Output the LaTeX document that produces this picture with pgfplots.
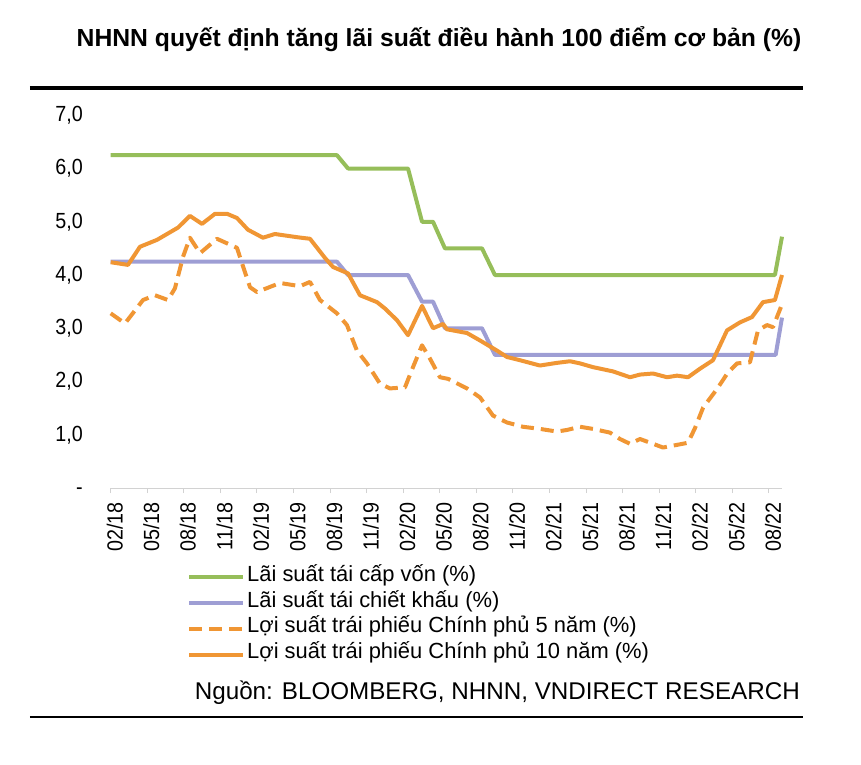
\documentclass[border=0pt]{standalone}
\usepackage{fontspec}
\setmainfont{Liberation Sans}
\newfontfamily\narrowsans[FakeStretch=0.9]{Liberation Sans}
\usepackage{pgfplots}
\pgfplotsset{compat=1.18}

\definecolor{refi}{RGB}{150,190,90}
\definecolor{redis}{RGB}{158,158,212}
\definecolor{bond}{RGB}{240,150,52}
\definecolor{axisgray}{RGB}{210,210,210}

\begin{document}
\begin{tikzpicture}[x=1bp,y=1bp]
\begin{axis}[
  at={(0,0)}, anchor=south west,
  scale only axis, width=671.3bp, height=372.75bp,
  xmin=0, xmax=55.07, ymin=0, ymax=7,
  clip=false,
  axis lines*=left,
  y axis line style={draw=none},
  x axis line style={draw=axisgray, line width=1bp},
  xtick={0,3,...,54},
  xticklabels={02/18,05/18,08/18,11/18,02/19,05/19,08/19,11/19,02/20,05/20,08/20,11/20,02/21,05/21,08/21,11/21,02/22,05/22,08/22},
  ytick={0,1,...,7},
  yticklabels={{\vphantom{1,0}-\hspace{7bp}},{1,0},{2,0},{3,0},{4,0},{5,0},{6,0},{7,0}},
  tick align=outside,
  major tick length=5bp,
  xtick style={draw=axisgray, line width=1bp},
  ytick style={draw=none},
  yticklabel style={font=\narrowsans\fontsize{22}{22}\selectfont, anchor=east, inner sep=0pt, xshift=-22.7bp},
  xticklabel style={font=\narrowsans\fontsize{22}{22}\selectfont, rotate=90, anchor=east, inner sep=0pt,
    text height=23.8bp, text depth=0pt},
  xticklabel shift=9bp,
  legend style={at={(0,0)}, anchor=north west, xshift=76.3bp, yshift=-77bp,
    draw=none, fill=none, inner sep=0pt, row sep=1.9bp, column sep=2bp,
    font=\fontsize{22}{22}\selectfont,
    nodes={inner sep=0pt, text height=16bp, text depth=8pt}},
  legend cell align=left,
  legend image code/.code={\draw[#1] (0bp,0bp) -- (54bp,0bp);},
  every axis plot/.append style={line width=4bp, line join=round},
]
% Lai suat tai cap von
\addplot[refi] coordinates {
  (0,6.25) (18.56,6.25) (19.47,6.0) (24.39,6.0) (25.54,5.0) (26.44,5.0)
  (27.42,4.5) (30.46,4.5) (31.52,4.0) (54.49,4.0) (55.07,4.72)
};
% Lai suat tai chiet khau
\addplot[redis] coordinates {
  (0,4.25) (18.56,4.25) (19.47,4.0) (24.39,4.0) (25.54,3.5) (26.44,3.5)
  (27.42,3.0) (30.46,3.0) (31.52,2.5) (54.55,2.5) (55.07,3.2)
};
% 5-year bond yield
\addplot[bond, dash pattern=on 13bp off 7bp] coordinates {
  (0,3.28) (1.17,3.09) (2.65,3.53) (3.63,3.62) (4.70,3.53) (5.27,3.75)
  (5.93,4.34) (6.50,4.70) (7.33,4.41) (8.72,4.68) (10.36,4.51) (10.77,4.22)
  (11.43,3.77) (12.00,3.68) (13.89,3.85) (15.53,3.79) (16.35,3.87) (17.17,3.53)
  (18.56,3.28) (19.38,3.06) (20.20,2.58) (21.02,2.34) (22.09,1.96) (22.91,1.87)
  (24.14,1.89) (24.80,2.27) (25.54,2.68) (26.19,2.43) (27.01,2.08) (27.67,2.05)
  (29.23,1.87) (30.30,1.70) (31.36,1.36) (32.51,1.23) (33.82,1.15) (35.21,1.11)
  (36.61,1.06) (37.43,1.09) (38.50,1.15) (39.56,1.11) (40.96,1.04) (41.78,0.92)
  (42.60,0.83) (43.42,0.92) (44.49,0.83) (45.31,0.76) (46.46,0.81) (47.36,0.85)
  (47.94,1.13) (48.60,1.51) (49.74,1.86) (50.64,2.17) (51.38,2.34) (52.44,2.36)
  (53.10,2.96) (53.84,3.06) (54.33,3.02) (55.07,3.45)
};
% 10-year bond yield
\addplot[bond] coordinates {
  (0,4.24) (1.42,4.19) (2.40,4.53) (3.80,4.66) (5.52,4.89) (6.50,5.11)
  (7.49,4.96) (8.56,5.15) (9.54,5.15) (10.36,5.07) (11.26,4.85) (12.49,4.70)
  (13.47,4.77) (15.28,4.71) (16.35,4.68) (17.58,4.32) (18.24,4.15) (19.47,4.03)
  (20.45,3.62) (21.85,3.49) (22.50,3.37) (23.49,3.15) (24.39,2.87) (25.54,3.42)
  (26.44,3.00) (27.26,3.08) (27.59,2.98) (29.23,2.91) (30.30,2.77) (31.69,2.58)
  (32.51,2.46) (33.57,2.40) (35.21,2.30) (36.61,2.35) (37.68,2.38) (38.50,2.34)
  (39.56,2.27) (41.20,2.19) (42.60,2.08) (43.42,2.13) (44.49,2.15) (45.64,2.08)
  (46.46,2.11) (47.36,2.08) (48.34,2.24) (49.41,2.40) (50.56,2.96) (51.62,3.11)
  (52.61,3.21) (53.51,3.49) (54.49,3.53) (55.07,4.00)
};
\legend{Lãi suất tái cấp vốn (\%), Lãi suất tái chiết khấu (\%),
  Lợi suất trái phiếu Chính phủ 5 năm (\%), Lợi suất trái phiếu Chính phủ 10 năm (\%)}
\end{axis}
\node[font=\bfseries\fontsize{24.8}{26}\selectfont, anchor=base] at (328.3,441)
  {NHNN quyết định tăng lãi suất điều hành 100 điểm cơ bản (\%)};
\draw[line width=4.5bp] (-80.7,400) -- (692.3,400);
\node[font=\fontsize{24.3}{26}\selectfont, anchor=base east, inner sep=0pt] at (689.3,-211)
  {Nguồn: BLOOMBERG, NHNN, VNDIRECT RESEARCH};
\draw[line width=2bp] (-80.7,-229) -- (692.3,-229);
\pgfresetboundingbox
\path (-110.7,-277) rectangle (750.3,488);
\end{tikzpicture}
\end{document}
